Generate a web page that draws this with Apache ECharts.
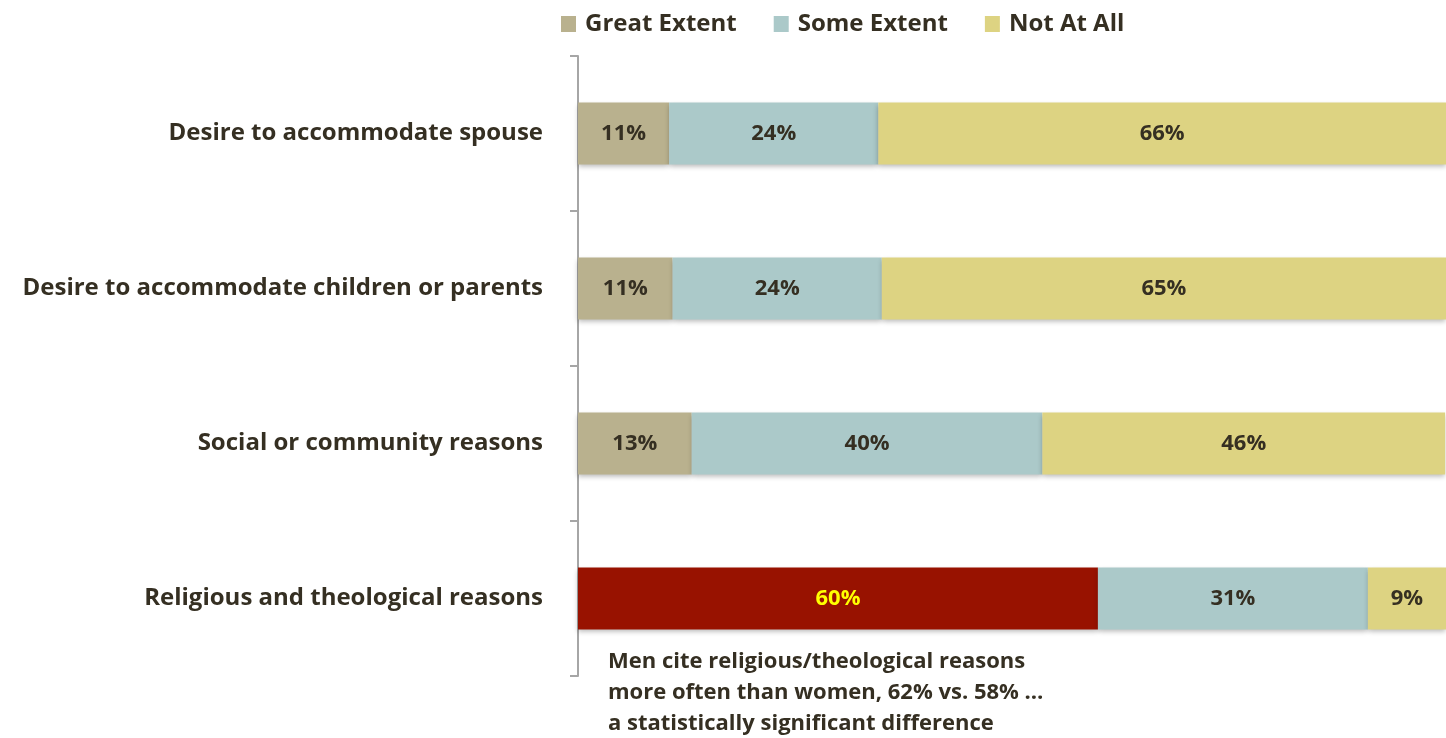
<!DOCTYPE html>
<html>
<head>
<meta charset="utf-8">
<script src="https://cdn.jsdelivr.net/npm/echarts@6/dist/echarts.min.js"></script>
<style>html,body{margin:0;padding:0;background:#fff}#c{width:1446px;height:738px}</style>
</head>
<body>
<div id="c"></div>
<script>
const categories = ['Desire to accommodate spouse','Desire to accommodate children or parents','Social or community reasons','Religious and theological reasons'];
const seriesNames = ['Great Extent','Some Extent','Not At All'];
const greatExtent = [10.5, 10.9, 13.1, 59.9];
const someExtent = [24.1, 24.1, 40.4, 31.1];
const notAtAll = [66, 65, 46.4, 9];
const highlightIndex = 3;
const noteLines = ['Men cite religious/theological reasons','more often than women, 62% vs. 58% …','a statistically significant difference'];

const FONT = '"Open Sans"';
const TXT = '#352f22';
const colors = ['#b9b18e', '#abc9c9', '#ddd382'];
const shadow = {shadowBlur: 5, shadowColor: 'rgba(0,0,0,0.28)', shadowOffsetY: 2};

function mkSeries(name, vals, ci) {
  return {
    name: name, type: 'bar', stack: 'total', barWidth: 62,
    itemStyle: Object.assign({color: colors[ci]}, shadow),
    label: {show: true, position: 'inside', formatter: p => Math.round(p.value) + '%', color: TXT, fontFamily: FONT, fontWeight: 'bold', fontSize: 22, padding: [3, 0, 0, 0]},
    data: vals.map((v, i) => {
      if (ci === 0 && i === highlightIndex) {
        return {value: v, itemStyle: {color: '#981200'}, label: {color: '#ffff00'}};
      }
      return v;
    })
  };
}

const chart = echarts.init(document.getElementById('c'));
chart.setOption({
  animation: false,
  legend: {
    top: 12, left: 561, padding: 0, itemWidth: 15, itemHeight: 16, itemGap: 37,
    icon: 'rect',
    textStyle: {color: TXT, fontFamily: FONT, fontWeight: 'bold', fontSize: 24, padding: [2, 0, 0, 4]},
    data: seriesNames
  },
  grid: {left: 578, top: 56, width: 869, height: 620, containLabel: false},
  xAxis: {type: 'value', min: 0, max: 100, show: false},
  yAxis: {
    type: 'category', inverse: true, data: categories, offset: 2,
    axisLine: {show: true, lineStyle: {color: '#a6a6a6', width: 2}},
    axisTick: {show: true, length: 8, lineStyle: {color: '#a6a6a6', width: 2}},
    axisLabel: {margin: 33, color: TXT, fontFamily: FONT, fontWeight: 'bold', fontSize: 24, padding: [4, 0, 0, 0]}
  },
  graphic: [{
    type: 'text', left: 608, top: 646,
    style: {text: noteLines.join('\n'), fill: TXT, font: 'bold 22px ' + FONT, lineHeight: 31}
  }],
  series: [
    mkSeries(seriesNames[0], greatExtent, 0),
    mkSeries(seriesNames[1], someExtent, 1),
    mkSeries(seriesNames[2], notAtAll, 2)
  ]
});
</script>
</body>
</html>
